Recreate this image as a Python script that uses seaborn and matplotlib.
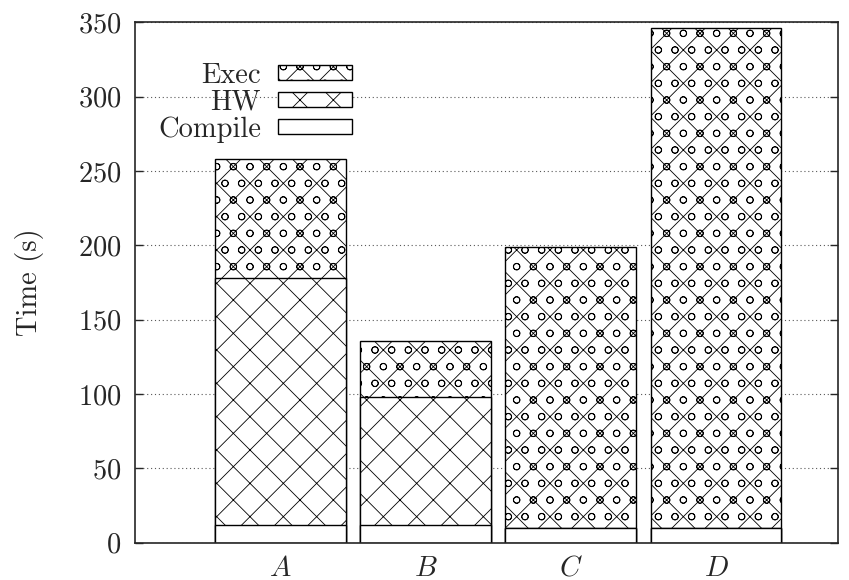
"""
Stacked execution-time bars (Compile / HW / Exec) per configuration.
"""

import numpy as np
import pandas as pd
import matplotlib
matplotlib.use("Agg")
import matplotlib.pyplot as plt
import seaborn as sns
from matplotlib.patches import Patch

# data
categories = ["A", "B", "C", "D"]
compile_t = [12, 12, 10, 10]
hw_t = [166, 86, 0, 0]
exec_t = [80, 38, 189, 336]

sns.set_style("ticks")
plt.rcParams["font.family"] = ["cmr10", "DejaVu Serif"]
plt.rcParams["mathtext.fontset"] = "cm"
plt.rcParams["axes.formatter.use_mathtext"] = True
plt.rcParams["font.size"] = 20.5
plt.rcParams["hatch.linewidth"] = 0.6

EXEC_HATCH = "xo"
HW_HATCH = "x"

df = pd.DataFrame({
    "cat": categories,
    "compile": compile_t,
    "hw": np.add(compile_t, hw_t),
    "total": np.add(np.add(compile_t, hw_t), exec_t),
})

fig = plt.figure(figsize=(8.49, 5.80), dpi=100)
ax = fig.add_axes([0.159, 0.0643, 0.828, 0.897])

# overlay cumulative totals, largest first
layers = [("total", EXEC_HATCH), ("hw", HW_HATCH), ("compile", "")]
for col, hatch in layers:
    sns.barplot(data=df, x="cat", y=col, order=categories, color="white",
                edgecolor="black", linewidth=1.0, hatch=hatch, width=0.9,
                saturation=1, ax=ax)

ax.set_xlim(-1.0, 3.84)
ax.set_ylim(0, 350)
ax.set_yticks(range(0, 351, 50))
ax.set_xticks(range(len(categories)))
ax.set_xticklabels([f"${c}$" for c in categories])
ax.set_xlabel("")
ax.set_ylabel("Time (s)", labelpad=24)

ax.yaxis.grid(True, linestyle=(0, (1, 2.5)), color="0.35", linewidth=0.8)
ax.set_axisbelow(True)
ax.tick_params(axis="y", direction="in", length=6, width=1, pad=10,
               right=True)
ax.tick_params(axis="x", length=0, pad=9)
for s in ax.spines.values():
    s.set_visible(True)
    s.set_linewidth(1.2)

handles = [
    Patch(facecolor="white", edgecolor="black", hatch=EXEC_HATCH, label="Exec"),
    Patch(facecolor="white", edgecolor="black", hatch=HW_HATCH, label="HW"),
    Patch(facecolor="white", edgecolor="black", label="Compile"),
]
leg = ax.legend(handles=handles, loc="upper right", frameon=False,
                markerfirst=False, bbox_to_anchor=(0.329, 0.95),
                borderpad=0, handlelength=2.6, handleheight=0.42,
                handletextpad=0.6, labelspacing=0.02)
# right-align the labels so the sample boxes line up
for col in leg._legend_handle_box.get_children():
    col.align = "right"

fig.savefig("out.png", dpi=100)
